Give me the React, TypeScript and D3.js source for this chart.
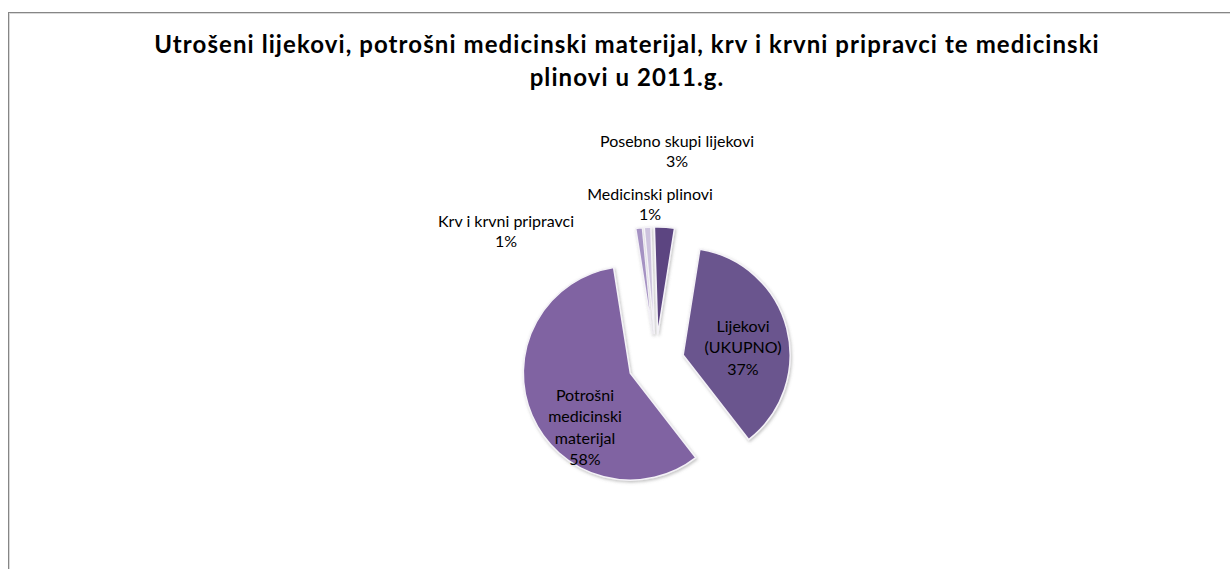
import React, { useEffect, useRef } from "react";
import * as d3 from "d3";

// chart data (percent shares, 2011)
const categories = [
  "Lijekovi (UKUPNO)",
  "Potrošni medicinski materijal",
  "Krv i krvni pripravci",
  "Medicinski plinovi",
  "Posebno skupi lijekovi",
];
const values = [37, 58, 1, 1, 3];
const labelLines = [
  ["Lijekovi", "(UKUPNO)"],
  ["Potrošni", "medicinski", "materijal"],
  ["Krv i krvni pripravci"],
  ["Medicinski plinovi"],
  ["Posebno skupi lijekovi"],
];
const sliceColors = ["#6b548e", "#8064a2", "#a592c3", "#cdc3de", "#5b4581"];

const titleLines = [
  "Utrošeni lijekovi, potrošni medicinski materijal, krv i krvni pripravci te medicinski",
  "plinovi u 2011.g.",
];

// label offsets from the pie centre (layout only)
const labelOffsets = [
  [87, -14],
  [-71, 66],
  [-150, -130],
  [-6, -157],
  [21, -210],
];

const App = () => {
  const svgRef = useRef();
  const width = 1230;
  const height = 569;

  useEffect(() => {
    document.body.style.margin = "0";
    document.body.style.overflow = "hidden";

    const svg = d3.select(svgRef.current);
    svg.selectAll("*").remove();

    // drop shadow for the slices
    const defs = svg.append("defs");
    const filter = defs.append("filter")
      .attr("id", "soft")
      .attr("x", "-20%").attr("y", "-20%")
      .attr("width", "140%").attr("height", "140%");
    filter.append("feDropShadow")
      .attr("dx", 1).attr("dy", 1.5)
      .attr("stdDeviation", 1.5)
      .attr("flood-color", "#777")
      .attr("flood-opacity", 0.45);

    // chart frame
    svg.append("rect")
      .attr("x", 9.5).attr("y", 13.5)
      .attr("width", width + 20).attr("height", height + 20)
      .attr("fill", "none")
      .attr("stroke", "#d9d9d9")
      .attr("stroke-width", 1);
    svg.append("rect")
      .attr("x", 8.5).attr("y", 12.5)
      .attr("width", width + 20).attr("height", height + 20)
      .attr("fill", "none")
      .attr("stroke", "#868686")
      .attr("stroke-width", 1);

    // title
    svg.append("text")
      .attr("x", 627)
      .attr("y", 53)
      .attr("text-anchor", "middle")
      .style("font-family", "Lato, 'Noto Sans', sans-serif")
      .style("font-weight", "bold")
      .style("font-size", "24px")
      .style("letter-spacing", "1.08px")
      .selectAll("tspan")
      .data(titleLines)
      .join("tspan")
      .attr("x", 627)
      .attr("dy", (d, i) => (i === 0 ? 0 : 33))
      .text((d) => d);

    // pie
    const cx = 656;
    const cy = 362;
    const radius = 107;
    const explode = 28;
    const startAngle = (9 * Math.PI) / 180;

    const pie = d3.pie()
      .sort(null)
      .value((d) => d)
      .startAngle(startAngle)
      .endAngle(startAngle + 2 * Math.PI);
    const arcs = pie(values);
    const arc = d3.arc().innerRadius(0).outerRadius(radius);

    const g = svg.append("g").attr("transform", `translate(${cx},${cy})`);

    g.selectAll("path")
      .data(arcs)
      .join("path")
      .attr("transform", (d) => {
        const mid = (d.startAngle + d.endAngle) / 2;
        return `translate(${Math.sin(mid) * explode},${-Math.cos(mid) * explode})`;
      })
      .attr("d", arc)
      .attr("fill", (d, i) => sliceColors[i])
      .attr("stroke", "#f4f2f7")
      .attr("stroke-width", 1.5)
      .attr("filter", "url(#soft)");

    // data labels
    const labels = g.selectAll("text.lbl")
      .data(arcs)
      .join("text")
      .attr("class", "lbl")
      .attr("text-anchor", "middle")
      .style("font-family", "Lato, 'Noto Sans', sans-serif")
      .style("font-size", "16px")
      .attr("fill", "#000");

    labels.each(function (d, i) {
      const lines = [...labelLines[i], `${values[i]}%`];
      const lineH = i < 2 ? 21.5 : 20.5;
      const [ox, oy] = labelOffsets[i];
      const top = oy - ((lines.length - 1) * lineH) / 2 + 5;
      d3.select(this)
        .selectAll("tspan")
        .data(lines)
        .join("tspan")
        .attr("x", ox)
        .attr("y", (l, k) => top + k * lineH)
        .text((l) => l);
    });
  }, []);

  return <svg ref={svgRef} width={width} height={height} style={{ display: "block", background: "#fff" }}></svg>;
};

export default App;
